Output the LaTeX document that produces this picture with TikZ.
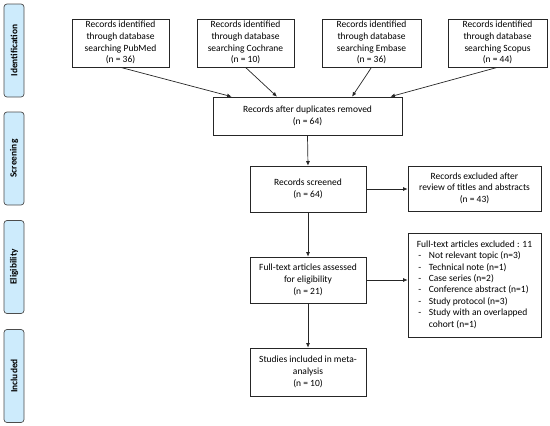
\documentclass[tikz,border=0pt]{standalone}
\usepackage{fontspec}
\setmainfont{Carlito}
\usetikzlibrary{arrows.meta,calc}
\newcommand{\mlines}[1]{\begin{tabular}{@{}c@{}}#1\end{tabular}}
\newcommand{\llines}[1]{\begin{tabular}{@{}l@{}}#1\end{tabular}}
\newcommand{\dashitem}{\makebox[12pt][l]{\hspace{1.5pt}-}}
\begin{document}
\begin{tikzpicture}[x=1pt,y=-1pt,
  box/.style={draw=black!85,line width=0.7pt,inner sep=0pt,
    font=\fontsize{9.5}{11.7}\selectfont},
  tab/.style={draw=black!70,line width=0.7pt,fill={rgb,255:red,205;green,235;blue,252},
    rounded corners=3pt,minimum width=20pt,inner sep=0pt,
    font=\bfseries\fontsize{9.4}{11}\selectfont},
  arr/.style={draw=black!85,line width=0.7pt,-{Latex[length=4.5pt,width=4pt]}}]
\useasboundingbox (0,0) rectangle (550,426);
% side tabs
\node[tab,minimum height=93pt] (t1) at (14,50.5) {\rotatebox{90}{Identification}};
\node[tab,minimum height=93pt] (t2) at (14,158.5) {\rotatebox{90}{Screening}};
\node[tab,minimum height=93pt] (t3) at (14,267) {\rotatebox{90}{Eligibility}};
\node[tab,minimum height=93pt] (t4) at (14,376) {\rotatebox{90}{Included}};
% top boxes
\node[box,minimum width=97pt,minimum height=48pt] (pub) at (120.5,43) {\mlines{Records identified\\through database\\searching PubMed\\(n = 36)}};
\node[box,minimum width=97pt,minimum height=48pt] (coc) at (245.5,43) {\mlines{Records identified\\through database\\searching Cochrane\\(n = 10)}};
\node[box,minimum width=99pt,minimum height=48pt] (emb) at (371.5,43) {\mlines{Records identified\\through database\\searching Embase\\(n = 36)}};
\node[box,minimum width=99pt,minimum height=48pt] (sco) at (497.5,43) {\mlines{Records identified\\through database\\searching Scopus\\(n = 44)}};
% middle
\node[box,minimum width=189pt,minimum height=38pt] (dup) at (307.5,116) {\mlines{Records after duplicates removed\\(n = 64)}};
\node[box,minimum width=116pt,minimum height=46pt] (scr) at (308,189) {\mlines{Records screened\\(n = 64)}};
\node[box,minimum width=133pt,minimum height=45pt] (ex1) at (474.5,188.5) {\mlines{Records excluded after\\review of titles and abstracts\\(n = 43)}};
\node[box,minimum width=116pt,minimum height=46pt] (ful) at (308,280) {\mlines{Full-text articles assessed\\for eligibility\\(n = 21)}};
\node[box,minimum width=133pt,minimum height=104pt,font=\fontsize{9.5}{11.4}\selectfont] (ex2) at (474.5,285) {\llines{Full-text articles excluded : 11\\
\dashitem Not relevant topic (n=3)\\
\dashitem Technical note (n=1)\\
\dashitem Case series (n=2)\\
\dashitem Conference abstract (n=1)\\
\dashitem Study protocol (n=3)\\
\dashitem Study with an overlapped\\
\hspace*{12pt}cohort (n=1)}};
\node[box,minimum width=116pt,minimum height=48pt] (inc) at (308,372) {\mlines{Studies included in meta-\\analysis\\(n = 10)}};
% connectors
\coordinate (d1) at ($(dup.north west)!0.10!(dup.north east)$);
\coordinate (d2) at ($(dup.north west)!0.339!(dup.north east)$);
\coordinate (d3) at ($(dup.north west)!0.735!(dup.north east)$);
\coordinate (d4) at ($(dup.north west)!0.937!(dup.north east)$);
\draw[arr] (pub.south) -- (d1);
\draw[arr] (coc.south) -- (d2);
\draw[arr] (emb.south) -- (d3);
\draw[arr] (sco.south) -- (d4);
\draw[arr] (dup.south) -- (scr.north);
\draw[arr] (scr.east) -- (scr.east -| ex1.west);
\draw[arr] (scr.south) -- (ful.north);
\draw[arr] (ful.east) -- (ful.east -| ex2.west);
\draw[arr] (ful.south) -- (inc.north);
\end{tikzpicture}
\end{document}
